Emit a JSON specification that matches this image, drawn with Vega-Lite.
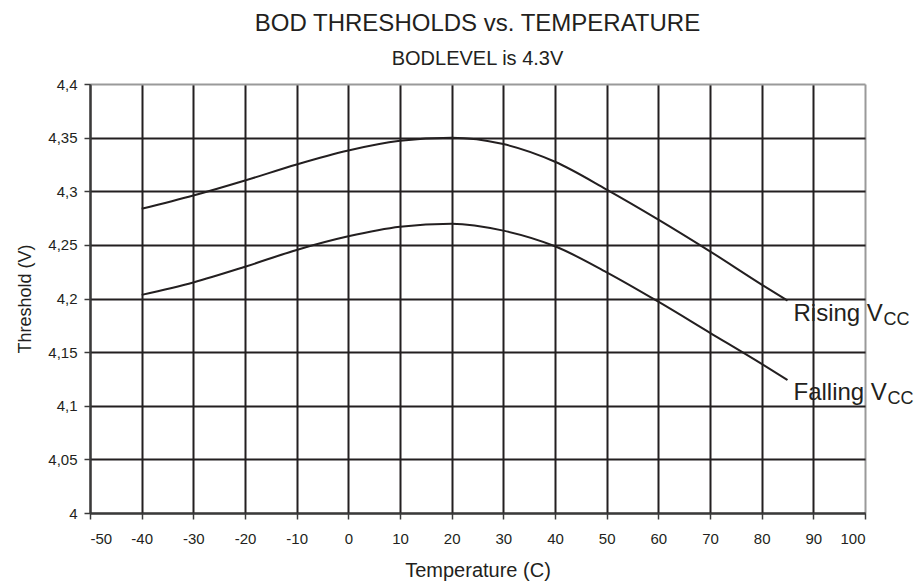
{
  "$schema": "https://vega.github.io/schema/vega-lite/v6.json",
  "width": 775,
  "height": 429,
  "autosize": {"type": "none"},
  "padding": {"top": 84, "left": 90, "right": 57, "bottom": 71},
  "background": "white",
  "title": {
    "text": "BOD THRESHOLDS vs. TEMPERATURE",
    "subtitle": "BODLEVEL is 4.3V",
    "anchor": "middle",
    "font": "Liberation Sans",
    "fontSize": 24,
    "fontWeight": "normal",
    "color": "#231f20",
    "subtitleFont": "Liberation Sans",
    "subtitleFontSize": 20,
    "subtitleColor": "#231f20",
    "subtitlePadding": 13,
    "offset": 8
  },
  "datasets": {
    "curves": [
      {"series": "Rising", "temp": -40, "value": 4.2836},
      {"series": "Rising", "temp": -30, "value": 4.296},
      {"series": "Rising", "temp": -20, "value": 4.31},
      {"series": "Rising", "temp": -10, "value": 4.325},
      {"series": "Rising", "temp": 0, "value": 4.338},
      {"series": "Rising", "temp": 10, "value": 4.347},
      {"series": "Rising", "temp": 20, "value": 4.35},
      {"series": "Rising", "temp": 30, "value": 4.344},
      {"series": "Rising", "temp": 40, "value": 4.3275},
      {"series": "Rising", "temp": 50, "value": 4.3016},
      {"series": "Rising", "temp": 60, "value": 4.2736},
      {"series": "Rising", "temp": 70, "value": 4.244},
      {"series": "Rising", "temp": 80, "value": 4.213},
      {"series": "Rising", "temp": 85, "value": 4.198},
      {"series": "Falling", "temp": -40, "value": 4.2034},
      {"series": "Falling", "temp": -30, "value": 4.215},
      {"series": "Falling", "temp": -20, "value": 4.2296},
      {"series": "Falling", "temp": -10, "value": 4.2453},
      {"series": "Falling", "temp": 0, "value": 4.258},
      {"series": "Falling", "temp": 10, "value": 4.267},
      {"series": "Falling", "temp": 20, "value": 4.2698},
      {"series": "Falling", "temp": 30, "value": 4.2633},
      {"series": "Falling", "temp": 40, "value": 4.2487},
      {"series": "Falling", "temp": 50, "value": 4.2244},
      {"series": "Falling", "temp": 60, "value": 4.197},
      {"series": "Falling", "temp": 70, "value": 4.168},
      {"series": "Falling", "temp": 80, "value": 4.139},
      {"series": "Falling", "temp": 85, "value": 4.124}
    ],
    "labels": [
      {"series": "Rising", "temp": 85, "value": 4.198, "main": "Rising V", "sub": "CC"},
      {"series": "Falling", "temp": 85, "value": 4.124, "main": "Falling V", "sub": "CC"}
    ]
  },
  "encoding": {
    "x": {
      "field": "temp",
      "type": "quantitative",
      "scale": {"domain": [-50, 100], "nice": false, "zero": false},
      "axis": {
        "title": "Temperature (C)",
        "titleFontSize": 20,
        "values": [-50, -40, -30, -20, -10, 0, 10, 20, 30, 40, 50, 60, 70, 80, 90, 100],
        "labelExpr": "'' + datum.value",
        "grid": true,
        "gridColor": {"condition": {"test": "datum.value == 100", "value": "#9a9a9a"}, "value": "#231f20"},
        "gridWidth": 2,
        "domain": true,
        "domainColor": "#3a3a3a",
        "domainWidth": 2,
        "tickColor": "#3a3a3a",
        "tickSize": 6,
        "tickWidth": 1.5,
        "labelPadding": 12,
        "titlePadding": 14
      }
    },
    "y": {
      "field": "value",
      "type": "quantitative",
      "scale": {"domain": [4, 4.4], "nice": false, "zero": false},
      "axis": {
        "title": "Threshold (V)",
        "titleFontSize": 18,
        "values": [4, 4.05, 4.1, 4.15, 4.2, 4.25, 4.3, 4.35, 4.4],
        "labelExpr": "replace(format(datum.value, '~g'), '.', ',')",
        "grid": true,
        "gridColor": {"condition": {"test": "datum.value == 4.4", "value": "#9a9a9a"}, "value": "#231f20"},
        "gridWidth": 2,
        "domain": true,
        "domainColor": "#3a3a3a",
        "domainWidth": 2,
        "tickColor": "#3a3a3a",
        "tickSize": 6,
        "tickWidth": 1.5,
        "labelPadding": 7,
        "titlePadding": 13
      }
    }
  },
  "layer": [
    {
      "data": {"name": "curves"},
      "mark": {"type": "line", "interpolate": "monotone", "color": "#231f20", "strokeWidth": 2},
      "encoding": {"detail": {"field": "series"}}
    },
    {
      "data": {"name": "labels"},
      "mark": {"type": "text", "align": "left", "baseline": "middle", "dx": 6, "dy": 13, "font": "Liberation Sans", "fontSize": 24, "color": "#231f20"},
      "encoding": {"text": {"field": "main"}}
    },
    {
      "data": {"name": "labels"},
      "transform": [{"filter": "datum.series == 'Rising'"}],
      "mark": {"type": "text", "align": "left", "baseline": "middle", "dx": 96, "dy": 19, "font": "Liberation Sans", "fontSize": 18, "color": "#231f20"},
      "encoding": {"text": {"field": "sub"}}
    },
    {
      "data": {"name": "labels"},
      "transform": [{"filter": "datum.series == 'Falling'"}],
      "mark": {"type": "text", "align": "left", "baseline": "middle", "dx": 100, "dy": 19, "font": "Liberation Sans", "fontSize": 18, "color": "#231f20"},
      "encoding": {"text": {"field": "sub"}}
    }
  ],
  "config": {
    "view": {"stroke": null},
    "axis": {
      "labelFont": "Liberation Sans",
      "labelFontSize": 15,
      "labelColor": "#231f20",
      "titleFont": "Liberation Sans",
      "titleFontWeight": "normal",
      "titleColor": "#231f20"
    }
  }
}
